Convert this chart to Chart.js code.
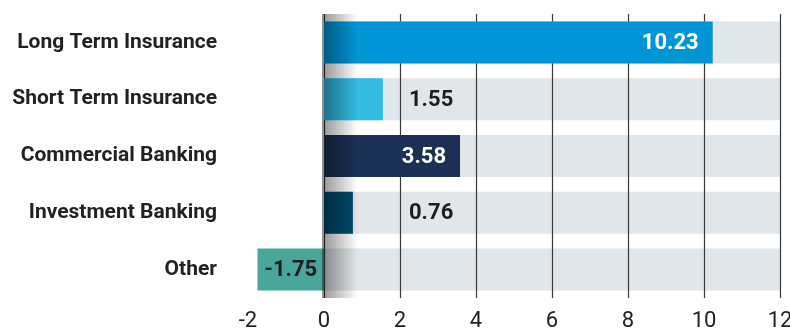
<!DOCTYPE html>
<html>
<head>
<meta charset="utf-8">
<script src="https://cdn.jsdelivr.net/npm/chart.js@4"></script>
<style>
  html, body { margin: 0; padding: 0; background: #fff; }
  #wrap { width: 790px; height: 329px; position: relative; }
</style>
</head>
<body>
<div id="wrap"><canvas id="chart"></canvas></div>
<script>
const categories = ['Long Term Insurance', 'Short Term Insurance', 'Commercial Banking', 'Investment Banking', 'Other'];
const values = [10.23, 1.55, 3.58, 0.76, -1.75];
const trackMax = [12, 12, 12, 12, 12];
const xTicks = [-2, 0, 2, 4, 6, 8, 10, 12];

const barColors = ['#0096d6', '#33bbe2', '#1b3054', '#004a6d', '#4aa69b'];
const FONT = 'Roboto, sans-serif';

// grid lines sit on top of the grey track but under the coloured bars
const gridPlugin = {
  id: 'gridOverTrack',
  afterDatasetDraw(chart, args) {
    if (args.index !== 0) return;
    const { ctx, chartArea, scales: { x } } = chart;
    ctx.save();
    ctx.strokeStyle = '#3a3a3a';
    ctx.lineWidth = 1.2;
    xTicks.filter((t) => t >= 0).forEach((t) => {
      const px = Math.round(x.getPixelForValue(t)) + 0.5;
      ctx.beginPath();
      ctx.moveTo(px, chartArea.top);
      ctx.lineTo(px, chartArea.bottom);
      ctx.stroke();
    });
    ctx.restore();
  },
  afterDatasetsDraw(chart) {
    const { ctx, chartArea, scales: { x } } = chart;
    const x0 = x.getPixelForValue(0) - 2;
    // soft shadow to the right of the zero line
    const g = ctx.createLinearGradient(x0, 0, x0 + 36, 0);
    g.addColorStop(0, 'rgba(0,0,0,0.42)');
    g.addColorStop(1, 'rgba(0,0,0,0)');
    ctx.save();
    ctx.fillStyle = g;
    ctx.fillRect(x0, chartArea.top, 36, chartArea.bottom - chartArea.top);

    // value labels
    const meta = chart.getDatasetMeta(1);
    ctx.font = 'bold 22px ' + FONT;
    ctx.textBaseline = 'middle';
    meta.data.forEach((bar, i) => {
      const v = values[i];
      const txt = v.toFixed(2);
      if (v < 0) {
        ctx.fillStyle = '#1e1e1e';
        ctx.textAlign = 'center';
        ctx.fillText(txt, (bar.x + bar.base) / 2, bar.y + 1);
      } else if (v >= 3) {
        ctx.fillStyle = '#ffffff';
        ctx.textAlign = 'right';
        ctx.fillText(txt, bar.x - 14, bar.y + 1);
      } else {
        ctx.fillStyle = '#1e1e1e';
        ctx.textAlign = 'left';
        ctx.fillText(txt, x.getPixelForValue(2) + 9, bar.y + 1);
      }
    });
    ctx.restore();
  }
};

new Chart(document.getElementById('chart'), {
  type: 'bar',
  data: {
    labels: categories,
    datasets: [
      {
        data: trackMax,
        backgroundColor: '#e0e6e9',
        grouped: false,
        order: 2,
        categoryPercentage: 1,
        barPercentage: 0.74,
      },
      {
        data: values,
        backgroundColor: barColors,
        grouped: false,
        order: 1,
        categoryPercentage: 1,
        barPercentage: 0.74,
      }
    ]
  },
  options: {
    indexAxis: 'y',
    responsive: true,
    maintainAspectRatio: false,
    animation: false,
    layout: { padding: { top: 14, right: 10, left: 0, bottom: 0 } },
    plugins: {
      legend: { display: false },
      tooltip: { enabled: false },
    },
    scales: {
      x: {
        min: -2,
        max: 12,
        afterBuildTicks: (s) => { s.ticks = xTicks.map((v) => ({ value: v })); },
        grid: { display: false, drawTicks: false },
        border: { display: false },
        ticks: {
          color: '#222',
          padding: 10,
          font: { family: FONT, size: 22 },
        },
        afterFit: (s) => {
          s.height = 31;
          s.paddingLeft = 0;
          s.paddingRight = 0;
        },
      },
      y: {
        grid: { display: false, drawTicks: false },
        border: { display: false },
        ticks: {
          color: '#222',
          padding: 31,
          font: { family: FONT, size: 21, weight: 'bold' },
        },
        afterFit: (s) => {
          s.width = 248;
          s.paddingTop = 0;
          s.paddingBottom = 0;
        },
      }
    }
  },
  plugins: [gridPlugin]
});
</script>
</body>
</html>
